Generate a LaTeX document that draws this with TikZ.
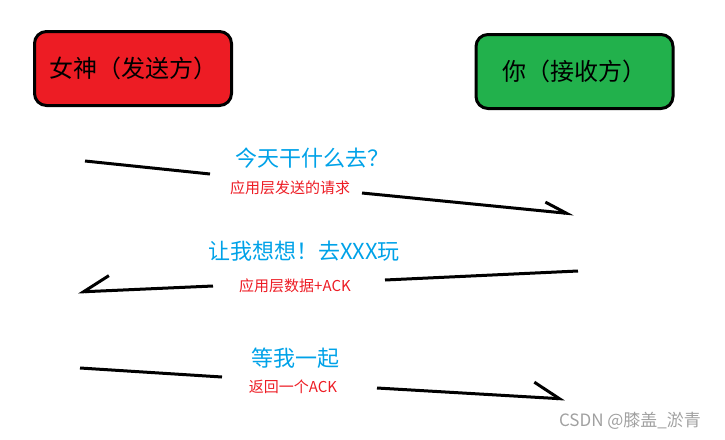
\documentclass[tikz,border=0pt]{standalone}
\usepackage{fontspec}
\newfontfamily\cjk{Noto Sans CJK SC}
\usetikzlibrary{arrows.meta}
\usepackage{xcolor}
\definecolor{paintred}{HTML}{ED1C24}
\definecolor{paintgreen}{HTML}{22B14C}
\definecolor{msgblue}{HTML}{00A2E8}
\definecolor{markgray}{HTML}{A0A0A0}

\begin{document}
\begin{tikzpicture}[x=1pt, y=-1pt,
    party/.style={rectangle, draw, line width=3pt, rounded corners=12pt, minimum width=197pt, minimum height=74pt, font=\cjk\fontsize{24}{29}\selectfont},
    msg/.style={text=msgblue, inner sep=0pt, font=\cjk\fontsize{22}{26}\selectfont},
    note/.style={text=paintred, inner sep=0pt, font=\cjk\fontsize{15}{18}\selectfont},
    seg/.style={line width=3pt},
    arrow/.style 2 args={line width=3pt, -{Straight Barb[harpoon, length=#1, width=#2]}},
    backarrow/.style 2 args={line width=3pt, -{Straight Barb[harpoon, swap, length=#1, width=#2]}},
]
\useasboundingbox (0,0) rectangle (725,439);

\node[party, fill=paintred] (sender) at (133,68.5) {女神（发送方）};
\node[party, fill=paintgreen] (receiver) at (574.5,71.5) {你（接收方）};

% request
\coordinate (r1a) at (85,161);
\coordinate (r1b) at (210,174);
\coordinate (r1c) at (362,193);
\coordinate (r1d) at (574,214);
\node[msg] (q1) at (312,158) {今天干什么去？};
\node[note] (q1note) at (290,188) {应用层发送的请求};
\draw[seg] (r1a) -- (r1b);
\draw[arrow={22pt}{18pt}] (r1c) -- (r1d);

% reply
\coordinate (r2a) at (578,271);
\coordinate (r2b) at (385,280);
\coordinate (r2c) at (213,286);
\coordinate (r2d) at (78,292);
\node[msg] (q2) at (304,251) {让我想想！去XXX玩};
\node[note] (q2note) at (295,286) {应用层数据+ACK};
\draw[seg] (r2a) -- (r2b);
\draw[backarrow={26pt}{30pt}] (r2c) -- (r2d);

% ack
\coordinate (r3a) at (80,368);
\coordinate (r3b) at (222,377);
\coordinate (r3c) at (377,388);
\coordinate (r3d) at (565,399);
\node[msg] (q3) at (295,358) {等我一起};
\node[note] (q3note) at (293,387) {返回一个ACK};
\draw[seg] (r3a) -- (r3b);
\draw[arrow={26pt}{30pt}] (r3c) -- (r3d);

\node[text=markgray, inner sep=0pt, font=\cjk\fontsize{17}{20}\selectfont] (mark) at (630,421) {CSDN @膝盖\_淤青};

\end{tikzpicture}
\end{document}
